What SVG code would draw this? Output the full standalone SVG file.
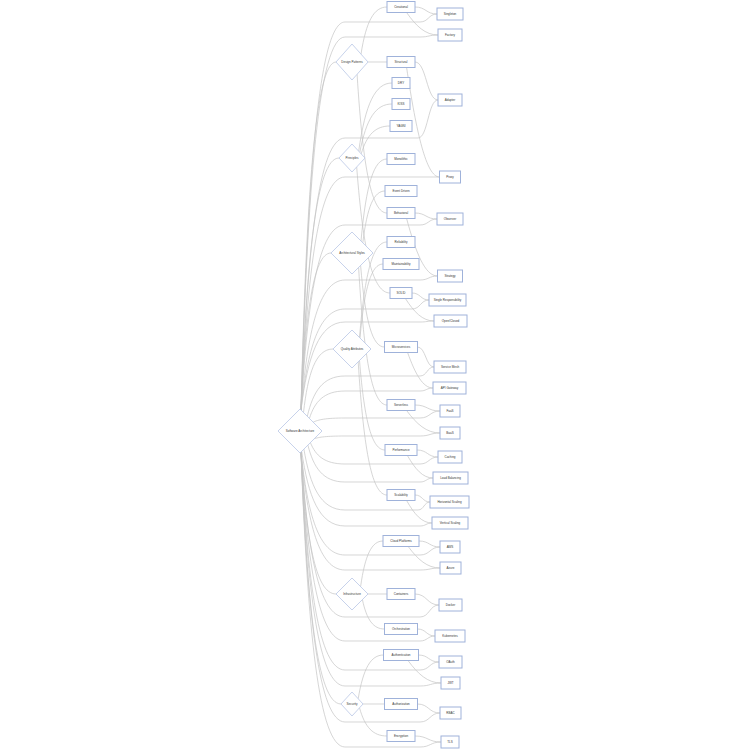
<svg xmlns="http://www.w3.org/2000/svg" width="750" height="750" viewBox="0 0 750 750">
<style>
.bg{fill:#ffffff}
.e{fill:none;stroke:#c4c4c4;stroke-width:0.7}
.d{fill:#ffffff;stroke:#b9c7e6;stroke-width:0.8}
.b{fill:#ffffff;stroke:#9fb2da;stroke-width:1}
.t{font-family:"Liberation Sans",Arial,sans-serif;font-size:3px;fill:#333333;text-anchor:middle;dominant-baseline:central}
</style>
<rect class="bg" x="0" y="0" width="750" height="750"/>
<g id="connectors">
<!-- root to categories -->
<path class="e" d="M301,410 C306.25,201.2 315,62 336,62"/>
<path class="e" d="M301,410 C306.7,258.8 316.2,158 339,158"/>
<path class="e" d="M301,410 C305.5,315.8 313,253 331,253"/>
<path class="e" d="M303.5,412.5 C307.9,374.4 315.3,349 333,349"/>
<path class="e" d="M301,452 C306.25,537.2 315,594 336,594"/>
<path class="e" d="M301,452 C307,603.2 317,704 341,704"/>
<!-- root to leaves -->
<path class="e" d="M301,410 C307.6,177.2 318.6,22 345,22 L420,22 C428.5,22 428.5,14 437,14"/>
<path class="e" d="M301,410 C307.6,186.2 318.6,37 345,37 L420,37 C429,37 429,35 438,35"/>
<path class="e" d="M301,410 C307.6,246.8 318.6,138 345,138 L418,138 C428,138 428,100 438,100"/>
<path class="e" d="M301,410 C307.6,270.2 318.6,177 345,177 L439.5,177"/>
<path class="e" d="M301,410 C307.6,299 318.6,225 345,225 L420,225 C428.5,225 428.5,219 437,219"/>
<path class="e" d="M301,410 C307.6,332 318.6,280 345,280 L420,280 C428.75,280 428.75,276 437.5,276"/>
<path class="e" d="M301,410 C307.6,349.4 318.6,309 345,309 L412,309 C420.5,309 420.5,300 429,300"/>
<path class="e" d="M301,410 C307.6,357.2 318.6,322 345,322 L420,322 C427,322 427,321 434,321"/>
<path class="e" d="M307.3,416.3 C313,392.1 322.4,376 345,376 L420,376 C427,376 427,367 434,367"/>
<path class="e" d="M309.4,418.4 C314.7,402 323.6,391 345,391 L420,391 C426.5,391 426.5,388 433,388"/>
<path class="e" d="M313.2,422.2 C318,419.7 325.9,418 345,418 L420,418 C430,418 430,411 440,411"/>
<path class="e" d="M314.3,438.7 C318.9,437.1 326.6,436 345,436 L420,436 C430,436 430,433 440,433"/>
<path class="e" d="M310.4,442.6 C315.6,455.4 324.2,464 345,464 L420,464 C429,464 429,457 438,457"/>
<path class="e" d="M307.9,445.1 C313.5,467.2 322.7,482 345,482 L420,482 C426.5,482 426.5,478 433,478"/>
<path class="e" d="M303.9,449.1 C310.1,485.6 320.3,510 345,510 L418,510 C424,510 424,502 430,502"/>
<path class="e" d="M301.7,451.3 C308.2,496.1 319,526 345,526 L420,526 C426,526 426,523 432,523"/>
<path class="e" d="M301,452 C307.6,513.8 318.6,555 345,555 L420,555 C430,555 430,547 440,547"/>
<path class="e" d="M301,452 C307.6,522.8 318.6,570 345,570 L420,570 C430,570 430,568 440,568"/>
<path class="e" d="M301,452 C307.6,551 318.6,617 345,617 L420,617 C429.5,617 429.5,605 439,605"/>
<path class="e" d="M301,452 C307.6,565.4 318.6,641 345,641 L420,641 C427.5,641 427.5,636 435,636"/>
<path class="e" d="M301,452 C307.6,582.8 318.6,670 345,670 L420,670 C429.5,670 429.5,662 439,662"/>
<path class="e" d="M301,452 C307.6,592.4 318.6,686 345,686 L420,686 C430.5,686 430.5,683 441,683"/>
<path class="e" d="M301,452 C307.6,614 318.6,722 345,722 L420,722 C430,722 430,713 440,713"/>
<path class="e" d="M301,452 C307.6,629 318.6,747 345,747 L420,747 C430.5,747 430.5,742 441,742"/>
<!-- categories to sub-topics -->
<path class="e" d="M361,54.1 C366.2,21.1 374,7 387,7"/>
<path class="e" d="M368,62 L387,62"/>
<path class="e" d="M357.1,74.3 C363.1,171.4 372,213 387,213"/>
<path class="e" d="M358.7,151.2 C365.4,103.5 375.3,83 392,83"/>
<path class="e" d="M359.8,152.4 C366.2,118.5 375.9,104 392,104"/>
<path class="e" d="M361.2,153.9 C367,134.4 375.6,126 390,126"/>
<path class="e" d="M356.7,167 C363.4,255.2 373.4,293 390,293"/>
<path class="e" d="M361,241 C366.2,183.6 374,159 387,159"/>
<path class="e" d="M362.8,242.8 C367.2,206.5 373.9,191 385,191"/>
<path class="e" d="M360.6,265.4 C365.4,322.5 372.5,347 384.5,347"/>
<path class="e" d="M358.6,267.4 C364.3,363.7 372.8,405 387,405"/>
<path class="e" d="M359.5,337.5 C365,270.6 373.2,242 387,242"/>
<path class="e" d="M360,338 C364.6,286.2 371.5,264 383,264"/>
<path class="e" d="M359.5,360.5 C364.6,423.2 372.2,450 385,450"/>
<path class="e" d="M358.2,361.8 C364,455 372.6,495 387,495"/>
<path class="e" d="M360.6,586.6 C365.1,554.7 371.8,541 383,541"/>
<path class="e" d="M368,594 L387,594"/>
<path class="e" d="M362.4,599.6 C366.8,620.2 373.5,629 384.5,629"/>
<path class="e" d="M358.2,698.75 C363.3,668.1 370.9,655 383.5,655"/>
<path class="e" d="M363,704 L384.5,704"/>
<path class="e" d="M359.5,707.8 C365,727.5 373.2,736 387,736"/>
<!-- sub-topics to leaves -->
<path class="e" d="M415,7 C426,7 426,14 437,14"/>
<path class="e" d="M406.6,12.5 C416,26 425.4,35 438,35"/>
<path class="e" d="M415,62 C426.5,62 426.5,100 438,100"/>
<path class="e" d="M406.6,67.5 C416.5,133.2 426.3,177 439.5,177"/>
<path class="e" d="M415,213 C426,213 426,219 437,219"/>
<path class="e" d="M406.6,218.5 C415.9,253 425.1,276 437.5,276"/>
<path class="e" d="M412,293 C420.5,293 420.5,300 429,300"/>
<path class="e" d="M405.4,298.5 C414,312 422.6,321 434,321"/>
<path class="e" d="M417.5,347 C425.75,347 425.75,367 434,367"/>
<path class="e" d="M407.6,352.5 C415.2,373.8 422.8,388 433,388"/>
<path class="e" d="M415,405 C427.5,405 427.5,411 440,411"/>
<path class="e" d="M406.6,410.5 C416.6,424 426.6,433 440,433"/>
<path class="e" d="M417,450 C427.5,450 427.5,457 438,457"/>
<path class="e" d="M407.4,455.5 C415.1,469 422.8,478 433,478"/>
<path class="e" d="M415,495 C422.5,495 422.5,502 430,502"/>
<path class="e" d="M406.6,500.5 C414.2,514 421.8,523 432,523"/>
<path class="e" d="M419,541 C429.5,541 429.5,547 440,547"/>
<path class="e" d="M408.2,546.5 C417.7,559.4 427.3,568 440,568"/>
<path class="e" d="M415,594 C427,594 427,605 439,605"/>
<path class="e" d="M417.5,629 C426.25,629 426.25,636 435,636"/>
<path class="e" d="M418.5,655 C428.75,655 428.75,662 439,662"/>
<path class="e" d="M408,660.5 C417.9,674 427.8,683 441,683"/>
<path class="e" d="M417.5,704 C428.75,704 428.75,713 440,713"/>
<path class="e" d="M415,736 C428,736 428,742 441,742"/>
</g>
<g id="root"><polygon class="d" points="300,409 322,431 300,453 278,431"/><text class="t" x="300" y="431">Software Architecture</text></g>
<g id="design-patterns"><polygon class="d" points="352,44 368,62 352,80 336,62"/><text class="t" x="352" y="62">Design Patterns</text></g>
<g id="principles"><polygon class="d" points="352,144 365,158 352,172 339,158"/><text class="t" x="352" y="158">Principles</text></g>
<g id="architectural-styles"><polygon class="d" points="352,232 373,253 352,274 331,253"/><text class="t" x="352" y="253">Architectural Styles</text></g>
<g id="quality-attributes"><polygon class="d" points="352,330 371,349 352,368 333,349"/><text class="t" x="352" y="349">Quality Attributes</text></g>
<g id="infrastructure"><polygon class="d" points="352,578 368,594 352,610 336,594"/><text class="t" x="352" y="594">Infrastructure</text></g>
<g id="security"><polygon class="d" points="352,692 363,704 352,716 341,704"/><text class="t" x="352" y="704">Security</text></g>
<g id="creational"><rect class="b" x="387" y="1.5" width="28" height="11"/><text class="t" x="401" y="7">Creational</text></g>
<g id="structural"><rect class="b" x="387" y="56.5" width="28" height="11"/><text class="t" x="401" y="62">Structural</text></g>
<g id="dry"><rect class="b" x="392" y="77.5" width="18" height="11"/><text class="t" x="401" y="83">DRY</text></g>
<g id="kiss"><rect class="b" x="392" y="98.5" width="18" height="11"/><text class="t" x="401" y="104">KISS</text></g>
<g id="yagni"><rect class="b" x="390" y="120.5" width="22" height="11"/><text class="t" x="401" y="126">YAGNI</text></g>
<g id="monolithic"><rect class="b" x="387" y="153.5" width="28" height="11"/><text class="t" x="401" y="159">Monolithic</text></g>
<g id="event-driven"><rect class="b" x="385" y="185.5" width="32" height="11"/><text class="t" x="401" y="191">Event Driven</text></g>
<g id="behavioral"><rect class="b" x="387" y="207.5" width="28" height="11"/><text class="t" x="401" y="213">Behavioral</text></g>
<g id="reliability"><rect class="b" x="387" y="236.5" width="28" height="11"/><text class="t" x="401" y="242">Reliability</text></g>
<g id="maintainability"><rect class="b" x="383" y="258.5" width="36" height="11"/><text class="t" x="401" y="264">Maintainability</text></g>
<g id="solid"><rect class="b" x="390" y="287.5" width="22" height="11"/><text class="t" x="401" y="293">SOLID</text></g>
<g id="microservices"><rect class="b" x="384.5" y="341.5" width="33" height="11"/><text class="t" x="401" y="347">Microservices</text></g>
<g id="serverless"><rect class="b" x="387" y="399.5" width="28" height="11"/><text class="t" x="401" y="405">Serverless</text></g>
<g id="performance"><rect class="b" x="385" y="444.5" width="32" height="11"/><text class="t" x="401" y="450">Performance</text></g>
<g id="scalability"><rect class="b" x="387" y="489.5" width="28" height="11"/><text class="t" x="401" y="495">Scalability</text></g>
<g id="cloud-platforms"><rect class="b" x="383" y="535.5" width="36" height="11"/><text class="t" x="401" y="541">Cloud Platforms</text></g>
<g id="containers"><rect class="b" x="387" y="588.5" width="28" height="11"/><text class="t" x="401" y="594">Containers</text></g>
<g id="orchestration"><rect class="b" x="384.5" y="623.5" width="33" height="11"/><text class="t" x="401" y="629">Orchestration</text></g>
<g id="authentication"><rect class="b" x="383.5" y="649.5" width="35" height="11"/><text class="t" x="401" y="655">Authentication</text></g>
<g id="authorization"><rect class="b" x="384.5" y="698.5" width="33" height="11"/><text class="t" x="401" y="704">Authorization</text></g>
<g id="encryption"><rect class="b" x="387" y="730.5" width="28" height="11"/><text class="t" x="401" y="736">Encryption</text></g>
<g id="singleton"><rect class="b" x="437" y="8" width="26" height="12"/><text class="t" x="450" y="14">Singleton</text></g>
<g id="factory"><rect class="b" x="438" y="29" width="24" height="12"/><text class="t" x="450" y="35">Factory</text></g>
<g id="adapter"><rect class="b" x="438" y="94" width="24" height="12"/><text class="t" x="450" y="100">Adapter</text></g>
<g id="proxy"><rect class="b" x="439.5" y="171" width="21" height="12"/><text class="t" x="450" y="177">Proxy</text></g>
<g id="observer"><rect class="b" x="437" y="213" width="26" height="12"/><text class="t" x="450" y="219">Observer</text></g>
<g id="strategy"><rect class="b" x="437.5" y="270" width="25" height="12"/><text class="t" x="450" y="276">Strategy</text></g>
<g id="single-responsibility"><rect class="b" x="429" y="294" width="37" height="12"/><text class="t" x="447.5" y="300">Single Responsibility</text></g>
<g id="open-closed"><rect class="b" x="434" y="315" width="33" height="12"/><text class="t" x="450.5" y="321">Open/Closed</text></g>
<g id="service-mesh"><rect class="b" x="434" y="361" width="32" height="12"/><text class="t" x="450" y="367">Service Mesh</text></g>
<g id="api-gateway"><rect class="b" x="433" y="382" width="33" height="12"/><text class="t" x="449.5" y="388">API Gateway</text></g>
<g id="faas"><rect class="b" x="440" y="405" width="20" height="12"/><text class="t" x="450" y="411">FaaS</text></g>
<g id="baas"><rect class="b" x="440" y="427" width="20" height="12"/><text class="t" x="450" y="433">BaaS</text></g>
<g id="caching"><rect class="b" x="438" y="451" width="24" height="12"/><text class="t" x="450" y="457">Caching</text></g>
<g id="load-balancing"><rect class="b" x="433" y="472" width="35" height="12"/><text class="t" x="450.5" y="478">Load Balancing</text></g>
<g id="horizontal-scaling"><rect class="b" x="430" y="496" width="39" height="12"/><text class="t" x="449.5" y="502">Horizontal Scaling</text></g>
<g id="vertical-scaling"><rect class="b" x="432" y="517" width="36" height="12"/><text class="t" x="450" y="523">Vertical Scaling</text></g>
<g id="aws"><rect class="b" x="440" y="541" width="20" height="12"/><text class="t" x="450" y="547">AWS</text></g>
<g id="azure"><rect class="b" x="440" y="562" width="21" height="12"/><text class="t" x="450.5" y="568">Azure</text></g>
<g id="docker"><rect class="b" x="439" y="599" width="23" height="12"/><text class="t" x="450.5" y="605">Docker</text></g>
<g id="kubernetes"><rect class="b" x="435" y="630" width="30" height="12"/><text class="t" x="450" y="636">Kubernetes</text></g>
<g id="oauth"><rect class="b" x="439" y="656" width="23" height="12"/><text class="t" x="450.5" y="662">OAuth</text></g>
<g id="jwt"><rect class="b" x="441" y="677" width="19" height="12"/><text class="t" x="450.5" y="683">JWT</text></g>
<g id="rbac"><rect class="b" x="440" y="707" width="21" height="12"/><text class="t" x="450.5" y="713">RBAC</text></g>
<g id="tls"><rect class="b" x="441" y="736" width="18" height="12"/><text class="t" x="450" y="742">TLS</text></g>
</svg>
